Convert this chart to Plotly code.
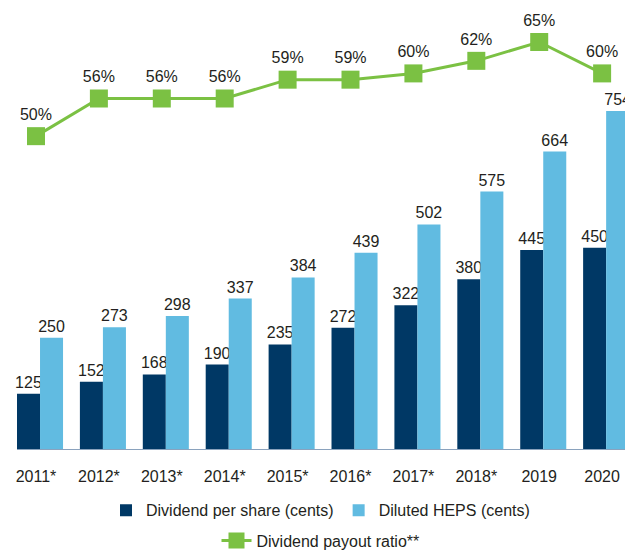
import plotly.graph_objects as go

years = ["2011*", "2012*", "2013*", "2014*", "2015*", "2016*", "2017*", "2018*", "2019", "2020"]
dividend = [125, 152, 168, 190, 235, 272, 322, 380, 445, 450]
heps = [250, 273, 298, 337, 384, 439, 502, 575, 664, 754]
payout = [50, 56, 56, 56, 59, 59, 60, 62, 65, 60]

NAVY = "#003865"
LIGHT = "#61bbe1"
GREEN = "#7bc143"
TXT = "#231f20"
FONT = "Liberation Sans, Arial, sans-serif"

x = list(range(len(years)))
BW = 0.366

fig = go.Figure()
fig.add_trace(go.Bar(
    x=x, y=dividend, name="Dividend per share (cents)",
    marker=dict(color=NAVY, line=dict(width=0)),
    width=BW, offset=-0.302,
    text=[str(v) for v in dividend], textposition="outside",
    constraintext="none", cliponaxis=False,
    textfont=dict(size=16, color=TXT, family=FONT),
    legend="legend",
))
fig.add_trace(go.Bar(
    x=x, y=heps, name="Diluted HEPS (cents)",
    marker=dict(color=LIGHT, line=dict(width=0)),
    width=BW, offset=0.064,
    text=[str(v) for v in heps], textposition="outside",
    constraintext="none", cliponaxis=False,
    textfont=dict(size=16, color=TXT, family=FONT),
    legend="legend",
))
fig.add_trace(go.Scatter(
    x=x, y=payout, name="Dividend payout ratio**", yaxis="y2",
    mode="lines+markers+text",
    line=dict(color=GREEN, width=3),
    marker=dict(symbol="square", size=18, color=GREEN),
    text=[f"{v}%" for v in payout], textposition="top center",
    textfont=dict(size=16, color=TXT, family=FONT),
    cliponaxis=False,
    legend="legend2",
))

xr = [-0.445, 9.491]
fig.add_shape(type="line", xref="x", yref="y", x0=-0.302, x1=xr[1], y0=0, y1=0,
              line=dict(color="#8aa2bd", width=2), layer="above")

fig.update_layout(
    width=625, height=544,
    margin=dict(l=0, r=0, t=2, b=102, autoexpand=False),
    plot_bgcolor="white", paper_bgcolor="white",
    font=dict(family=FONT, size=16, color=TXT),
    barmode="group",
    showlegend=True,
    xaxis=dict(range=xr, tickvals=x, ticktext=years, showgrid=False, zeroline=False,
               showline=False, ticks="outside", ticklen=12, tickcolor="rgba(0,0,0,0)",
               tickfont=dict(size=16, color=TXT), automargin=False),
    yaxis=dict(range=[0, 979], visible=False, showgrid=False, zeroline=False),
    yaxis2=dict(range=[0, 70.1], overlaying="y", visible=False, showgrid=False, zeroline=False),
    legend=dict(orientation="h", x=0.5, xanchor="center", y=-0.137, yanchor="middle",
                font=dict(size=16, color=TXT), traceorder="normal",
                bgcolor="rgba(0,0,0,0)"),
    legend2=dict(orientation="h", x=0.5, xanchor="center", y=-0.206, yanchor="middle",
                 font=dict(size=16, color=TXT), bgcolor="rgba(0,0,0,0)"),
)

fig.write_html("out.html")
